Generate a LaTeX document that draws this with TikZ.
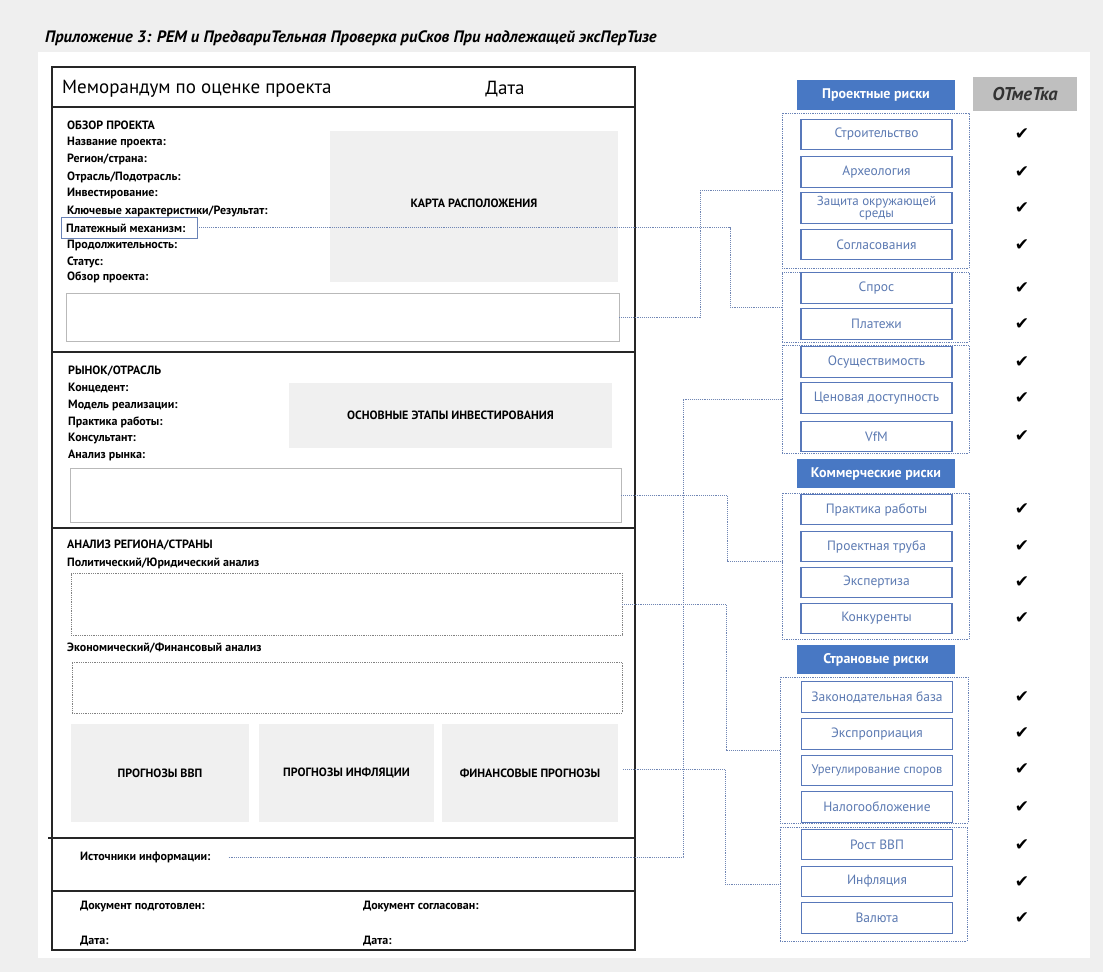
\documentclass[tikz,border=0pt]{standalone}
\usepackage{fontspec}
\setmainfont{PT Sans}
\newfontfamily\symfont{DejaVu Sans}
\usetikzlibrary{calc}

\definecolor{pagegray}{RGB}{239,239,239}
\definecolor{boxgray}{RGB}{240,240,240}
\definecolor{linegray}{RGB}{185,185,185}
\definecolor{dotgray}{RGB}{130,130,130}
\definecolor{headblue}{RGB}{72,120,196}
\definecolor{itemblue}{RGB}{88,120,186}
\definecolor{itemtext}{RGB}{92,122,178}
\definecolor{groupblue}{RGB}{105,130,182}
\definecolor{connblue}{RGB}{112,134,180}
\definecolor{markgray}{RGB}{191,191,191}

\newcommand\lblfont{\fontsize{12}{13}\selectfont\bfseries}
\newcommand\itemfont{\fontsize{13.5}{13}\selectfont}
\newcommand\headfont{\fontsize{14}{15}\selectfont\bfseries}

\tikzset{
  lbl/.style={font=\lblfont, anchor=west, inner sep=0pt, text=black},
  graybox/.style={fill=boxgray, draw=none, font=\lblfont, inner sep=0pt},
  txtbox/.style={draw=linegray, line width=0.8pt, inner sep=0pt},
  dotbox/.style={draw=dotgray, line width=0.8pt, densely dotted, inner sep=0pt},
  memoline/.style={line width=1.7pt, draw=black!85},
  riskitem/.style={draw=itemblue, line width=1.3pt, text=itemtext, font=\itemfont,
    minimum width=151pt, minimum height=30.5pt, inner sep=0pt},
  riskgroup/.style={draw=groupblue, line width=0.8pt, densely dotted, inner sep=0pt},
  riskhead/.style={fill=headblue, text=white, font=\headfont,
    minimum width=158pt, minimum height=29.5pt, inner sep=0pt},
  conn/.style={draw=connblue, line width=0.9pt, densely dotted},
  tick/.style={font=\symfont\fontsize{17}{17}\selectfont, inner sep=0pt}
}

\begin{document}
\begin{tikzpicture}[x=1pt,y=-1pt]
\useasboundingbox (0,0) rectangle (1103,972);
\fill[pagegray] (0,0) rectangle (1103,972);
\fill[white] (38,52) rectangle (1090,958);

% heading line
\node[anchor=west, inner sep=0pt, font=\fontsize{16.5}{17}\selectfont\bfseries\itshape] (title) at (45,38)
  {Приложение 3: PEM и ПредвариТельная Проверка риСков При надлежащей эксПерТизе};

% ---------- memorandum form ----------
\draw[memoline] (52,67) rectangle (635,950);
\draw[memoline] (52,107) -- (635,107);
\draw[memoline] (52,352) -- (635,352);
\draw[memoline] (52,528) -- (635,528);
\draw[memoline] (48,838) -- (635,838);
\draw[memoline] (52,891) -- (635,891);

\node[anchor=west, inner sep=0pt, font=\fontsize{19}{21}\selectfont] (memo) at (62,89) {Меморандум по оценке проекта};
\node[inner sep=0pt, font=\fontsize{19}{21}\selectfont] (date) at (505,89) {Дата};

% project overview
\node[lbl] (ov0) at (67,125) {ОБЗОР ПРОЕКТА};
\node[lbl] (ov1) at (67,142) {Название проекта:};
\node[lbl] (ov2) at (67,159) {Регион/страна:};
\node[lbl] (ov3) at (67,177) {Отрасль/Подотрасль:};
\node[lbl] (ov4) at (67,193) {Инвестирование:};
\node[lbl] (ov5) at (67,211) {Ключевые характеристики/Результат:};
\node[draw=groupblue, line width=0.8pt, minimum width=136pt, minimum height=21pt, inner sep=0pt] (pay) at (129,227.5) {};
\node[lbl] (ov6) at (66,228) {Платежный механизм:};
\node[lbl] (ov7) at (67,245) {Продолжительность:};
\node[lbl] (ov8) at (67,262) {Статус:};
\node[lbl] (ov9) at (67,277) {Обзор проекта:};
\node[graybox, minimum width=288pt, minimum height=151pt] (map) at (474,206.5) {\raisebox{7pt}{КАРТА РАСПОЛОЖЕНИЯ}};
\node[txtbox, minimum width=553pt, minimum height=48pt] (ovbox) at (342.5,317) {};

% market / sector
\node[lbl] (mk0) at (68,371) {РЫНОК/ОТРАСЛЬ};
\node[lbl] (mk1) at (68,388) {Концедент:};
\node[lbl] (mk2) at (68,405) {Модель реализации:};
\node[lbl] (mk3) at (68,422) {Практика работы:};
\node[lbl] (mk4) at (68,439) {Консультант:};
\node[lbl] (mk5) at (68,455) {Анализ рынка:};
\node[graybox, minimum width=323pt, minimum height=65pt] (stages) at (450.5,415.5) {\raisebox{-5pt}{ОСНОВНЫЕ ЭТАПЫ ИНВЕСТИРОВАНИЯ}};
\node[txtbox, minimum width=551pt, minimum height=54pt] (mkbox) at (345.5,495) {};

% region / country analysis
\node[lbl] (rg0) at (67,545) {АНАЛИЗ РЕГИОНА/СТРАНЫ};
\node[lbl] (rg1) at (67,563) {Политический/Юридический анализ};
\node[dotbox, minimum width=551pt, minimum height=62pt] (polbox) at (346.5,604) {};
\node[lbl] (rg2) at (67,648) {Экономический/Финансовый анализ};
\node[dotbox, minimum width=550pt, minimum height=51pt] (ecobox) at (347,687.5) {};
\node[graybox, minimum width=178pt, minimum height=98pt] (gdp) at (160,773) {\raisebox{-4pt}{ПРОГНОЗЫ ВВП}};
\node[graybox, minimum width=175pt, minimum height=98pt] (infl) at (346.5,773) {\raisebox{-4pt}{ПРОГНОЗЫ ИНФЛЯЦИИ}};
\node[graybox, minimum width=176pt, minimum height=98pt] (finbox) at (530,773) {\raisebox{-4pt}{ФИНАНСОВЫЕ ПРОГНОЗЫ}};

% sources and sign-off
\node[lbl] (src) at (80,857) {Источники информации:};
\node[lbl] (prep) at (80,907) {Документ подготовлен:};
\node[lbl] (appr) at (363,907) {Документ согласован:};
\node[lbl] (date1) at (80,941) {Дата:};
\node[lbl] (date2) at (363,941) {Дата:};

% ---------- risk checklist ----------
\node[riskhead] (h1) at (876,95) {Проектные риски};
\node[riskhead] (h2) at (876,473.5) {Коммерческие риски};
\node[riskhead] (h3) at (876,659.5) {Страновые риски};
\node[fill=markgray, minimum width=104pt, minimum height=34pt, inner sep=0pt,
      font=\fontsize{18.5}{19}\selectfont\bfseries\itshape, text=black!80] (mark) at (1025,94) {ОТмеТка};

\node[riskgroup, minimum width=187pt, minimum height=155pt] (g1) at (875.5,190.5) {};
\node[riskgroup, minimum width=187pt, minimum height=70pt] (g2) at (875.5,307) {};
\node[riskgroup, minimum width=187pt, minimum height=108pt] (g3) at (875.5,399) {};
\node[riskgroup, minimum width=187pt, minimum height=146pt] (g4) at (875.5,566) {};
\node[riskgroup, minimum width=188pt, minimum height=146pt] (g5) at (874,750) {};
\node[riskgroup, minimum width=187pt, minimum height=114pt] (g6) at (873.5,884) {};

\node[riskitem] (r1) at (876.5,134.5) {\raisebox{-2pt}{Строительство}};
\node[riskitem] (r2) at (876.5,172) {\raisebox{-2pt}{Археология}};
\node[riskitem, font=\fontsize{13}{12.5}\selectfont, align=center] (r3) at (876.5,208)
  {\raisebox{-3pt}{\parbox{150pt}{\centering Защита окружающей\\ среды}}};
\node[riskitem] (r4) at (876.5,244.5) {\raisebox{-3pt}{Согласования}};
\node[riskitem] (r5) at (876.5,288) {\raisebox{-2pt}{Спрос}};
\node[riskitem] (r6) at (876.5,324) {\raisebox{-2pt}{Платежи}};
\node[riskitem] (r7) at (876.5,362) {\raisebox{-1pt}{Осуществимость}};
\node[riskitem] (r8) at (876.5,398) {\raisebox{-2pt}{Ценовая доступность}};
\node[riskitem] (r9) at (876.5,436.5) {\raisebox{-2pt}{VfM}};
\node[riskitem] (r10) at (876.5,509.5) {\raisebox{-2pt}{Практика работы}};
\node[riskitem] (r11) at (876.5,546.5) {\raisebox{-2pt}{Проектная труба}};
\node[riskitem] (r12) at (876.5,582.5) {\raisebox{-2pt}{Экспертиза}};
\node[riskitem] (r13) at (876.5,618.5) {\raisebox{-2pt}{Конкуренты}};
\node[riskitem] (r14) at (877,697) {\raisebox{-1pt}{Законодательная база}};
\node[riskitem] (r15) at (877,734) {\raisebox{-1pt}{Экспроприация}};
\node[riskitem, font=\fontsize{12.5}{13}\selectfont] (r16) at (877,770.5) {\raisebox{-1pt}{Урегулирование споров}};
\node[riskitem] (r17) at (877,807) {\raisebox{-2pt}{Налогообложение}};
\node[riskitem] (r18) at (877,844.5) {\raisebox{-1pt}{Рост ВВП}};
\node[riskitem] (r19) at (877,881.5) {\raisebox{-1pt}{Инфляция}};
\node[riskitem] (r20) at (877,918) {\raisebox{-1pt}{Валюта}};

% check marks
\foreach \i/\y in {1/134,2/172,3/208,4/245,5/288,6/324,7/362,8/398,9/436,
                   10/509,11/546,12/582,13/618,14/697,15/733,16/769,17/807,
                   18/845,19/882,20/918}
  \node[tick] (tk\i) at (1022,\y) {✔};

% ---------- connectors ----------
\coordinate (xa) at (730,0);
\coordinate (xb) at (700,0);
\coordinate (xc) at (727,0);
\coordinate (xd) at (683,0);
\coordinate (xe) at (726,0);
\coordinate (xf) at (725,0);
\coordinate (srcend) at ($(src.east)+(18,0)$);
\coordinate (finend) at ($(finbox.east)+(5,-4)$);

\draw[conn] (pay.east) -- (pay.east -| xa) |- (g2.west);
\draw[conn] (ovbox.east) -- (ovbox.east -| xb) |- (g1.west);
\draw[conn] (mkbox.east) -- (mkbox.east -| xc) |- ($(g4.west)+(0,-5)$);
\draw[conn] (srcend) -- (srcend -| xd) |- (g3.west);
\draw[conn] (polbox.east) -- (polbox.east -| xe) |- (g5.west);
\draw[conn] (finend) -- (finend -| xf) |- (g6.west);
\end{tikzpicture}
\end{document}
